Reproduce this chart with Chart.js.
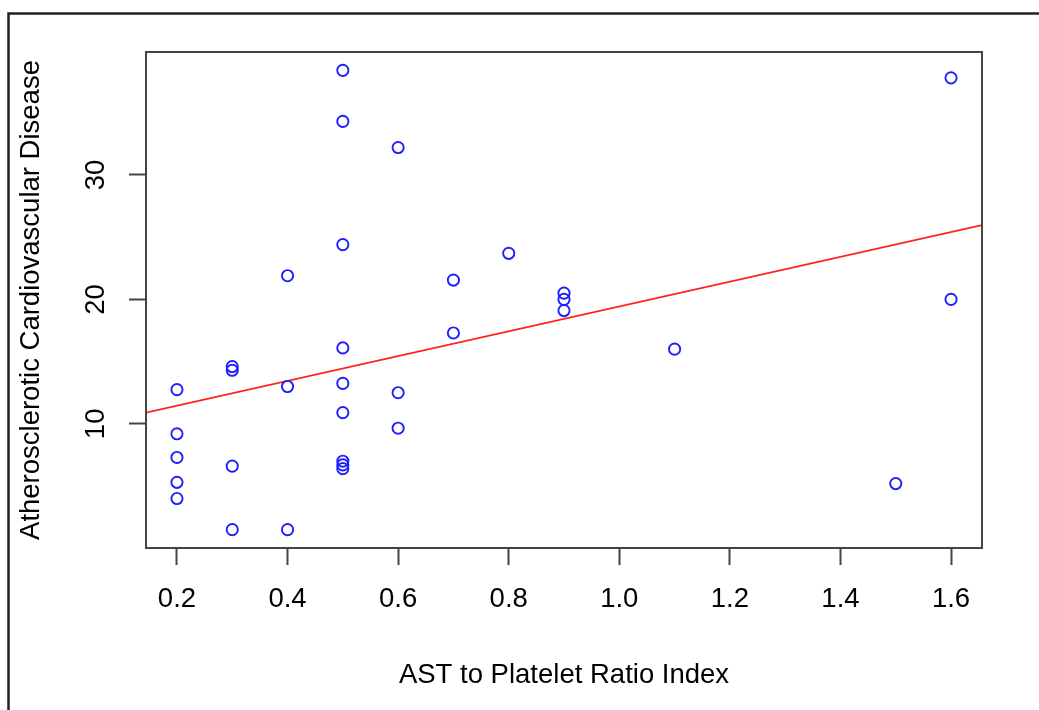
<!DOCTYPE html>
<html>
<head>
<meta charset="utf-8">
<script src="https://cdn.jsdelivr.net/npm/chart.js@4/dist/chart.umd.min.js"></script>
<style>
  body { margin: 0; background: #fff; }
  #wrap { width: 1039px; height: 710px; }
</style>
</head>
<body>
<div id="wrap"><canvas id="scatter" width="1039" height="710"></canvas></div>
<script>
// values
const apri = [0.2, 0.2, 0.2, 0.2, 0.2,
              0.3, 0.3, 0.3, 0.3,
              0.4, 0.4, 0.4,
              0.5, 0.5, 0.5, 0.5, 0.5, 0.5, 0.5, 0.5, 0.5,
              0.6, 0.6, 0.6,
              0.7, 0.7,
              0.8,
              0.9, 0.9, 0.9,
              1.1,
              1.5,
              1.6, 1.6];
const ascvd = [12.75, 9.2, 7.3, 5.3, 4.0,
               14.6, 14.3, 6.6, 1.5,
               21.9, 13.0, 1.5,
               38.4, 34.3, 24.4, 16.1, 13.25, 10.9, 7.0, 6.7, 6.4,
               32.2, 12.5, 9.65,
               21.55, 17.3,
               23.7,
               20.5, 20.0, 19.1,
               16.0,
               5.2,
               37.8, 20.0];
const xTicks = [0.2, 0.4, 0.6, 0.8, 1.0, 1.2, 1.4, 1.6];
const yTicks = [10, 20, 30];
const xLabel = 'AST to Platelet Ratio Index';
const yLabel = 'Atherosclerotic Cardiovascular Disease';

// R style axis range: data range plus 4% each side
function padRange(arr) {
    const lo = Math.min(...arr), hi = Math.max(...arr);
    const d = (hi - lo) * 0.04;
    return [lo - d, hi + d];
}
const [xMin, xMax] = padRange(apri);
const [yMin, yMax] = padRange(ascvd);

// least squares fit, like abline(lm(y ~ x))
const n = apri.length;
const mx = apri.reduce((a, b) => a + b, 0) / n;
const my = ascvd.reduce((a, b) => a + b, 0) / n;
let sxy = 0, sxx = 0;
apri.forEach((x, i) => { sxy += (x - mx) * (ascvd[i] - my); sxx += (x - mx) * (x - mx); });
const slope = sxy / sxx;
const intercept = my - slope * mx;

const points = apri.map((x, i) => ({x: x, y: ascvd[i]}));
const fitLine = [xMin, xMax].map(x => ({x: x, y: intercept + slope * x}));

const font = {family: "'Liberation Sans', Arial, sans-serif", size: 27.5};

const framePlugin = {
    id: 'frame',
    beforeDraw(chart) {
        const ctx = chart.ctx;
        ctx.save();
        ctx.fillStyle = '#fff';
        ctx.fillRect(0, 0, chart.width, chart.height);
        ctx.strokeStyle = '#222';
        ctx.lineWidth = 2.5;
        ctx.beginPath();
        ctx.moveTo(1039, 13.5);
        ctx.lineTo(8.5, 13.5);
        ctx.lineTo(8.5, 710);
        ctx.stroke();
        ctx.restore();
    },
    afterDraw(chart) {
        const a = chart.chartArea;
        const ctx = chart.ctx;
        ctx.save();
        ctx.strokeStyle = '#444';
        ctx.lineWidth = 2;
        ctx.strokeRect(a.left, a.top, a.right - a.left, a.bottom - a.top);
        ctx.restore();
    }
};

new Chart(document.getElementById('scatter'), {
    type: 'scatter',
    data: {
        datasets: [{
            data: points,
            pointStyle: 'circle',
            pointRadius: 5.6,
            pointBorderWidth: 1.9,
            borderColor: 'rgb(30,30,255)',
            backgroundColor: 'rgba(0,0,0,0)'
        }, {
            type: 'line',
            data: fitLine,
            borderColor: '#ff2020',
            borderWidth: 1.7,
            pointRadius: 0,
            fill: false
        }]
    },
    options: {
        responsive: false,
        animation: false,
        events: [],
        layout: {
            autoPadding: false,
            padding: {top: 52, right: 57, left: 0, bottom: 0}
        },
        plugins: {
            legend: {display: false},
            tooltip: {enabled: false}
        },
        scales: {
            x: {
                type: 'linear',
                min: xMin,
                max: xMax,
                afterBuildTicks: s => { s.ticks = xTicks.map(v => ({value: v})); },
                afterFit: s => { s.height = 162; },
                border: {display: false},
                grid: {drawOnChartArea: false, drawTicks: true, tickLength: 17, tickColor: '#444', tickWidth: 2},
                ticks: {
                    font: font,
                    color: '#000',
                    padding: 18,
                    maxRotation: 0,
                    autoSkip: false,
                    callback: v => v.toFixed(1)
                },
                title: {display: true, text: xLabel, font: font, color: '#000', padding: {top: 0, bottom: 18}}
            },
            y: {
                type: 'linear',
                min: yMin,
                max: yMax,
                afterBuildTicks: s => { s.ticks = yTicks.map(v => ({value: v})); },
                afterFit: s => { s.width = 146; },
                border: {display: false},
                grid: {drawOnChartArea: false, drawTicks: true, tickLength: 17, tickColor: '#444', tickWidth: 2},
                ticks: {
                    font: font,
                    color: '#000',
                    padding: 17,
                    minRotation: 90,
                    maxRotation: 90,
                    crossAlign: 'center',
                    autoSkip: false,
                    callback: v => String(v)
                },
                title: {display: true, text: yLabel, font: font, color: '#000', padding: {top: 15, bottom: 0}}
            }
        }
    },
    plugins: [framePlugin]
});
</script>
</body>
</html>
